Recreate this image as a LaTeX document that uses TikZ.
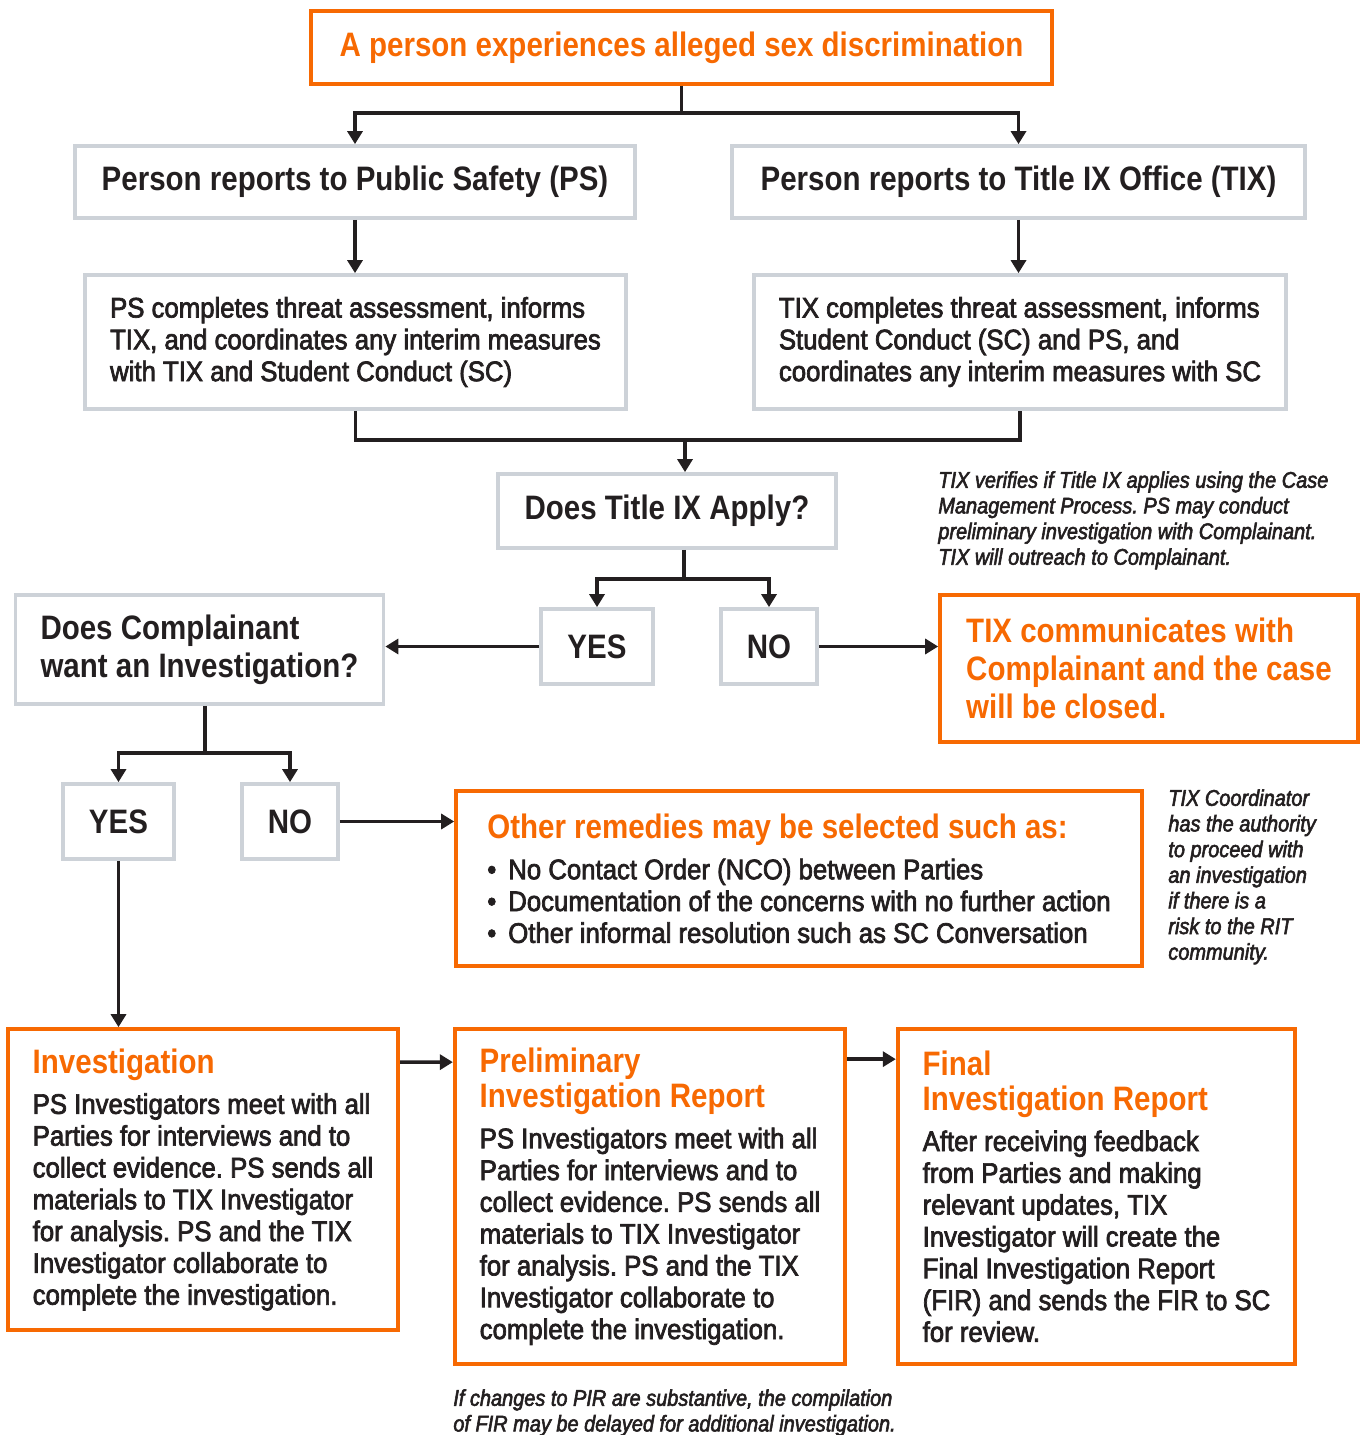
\documentclass[tikz,border=0pt]{standalone}
\usepackage{fontspec}
\usepackage{xcolor}
\usepackage{tikz}
\usetikzlibrary{arrows.meta}
\newfontfamily\hdfont[FakeStretch=0.87]{Liberation Sans}
\newfontfamily\bdfont[FakeStretch=0.91,FakeBold=2.5]{Liberation Sans}
\newfontfamily\ntfont[FakeStretch=0.88,FakeBold=2.5]{Liberation Sans}
\definecolor{ritorange}{HTML}{F76902}
\definecolor{boxgrey}{HTML}{CDD2D8}
\definecolor{inkdark}{HTML}{231F20}
\newcommand{\hdsize}{\hdfont\bfseries\fontsize{19.3}{21.5}\selectfont}
\newcommand{\bdsize}{\bdfont\fontsize{16.1}{18.1}\selectfont}
\newcommand{\ntsize}{\ntfont\itshape\fontsize{12.9}{14.6}\selectfont}
\frenchspacing

\begin{document}
\begin{tikzpicture}[x=0.02cm, y=-0.02cm,
  greybox/.style={rectangle, draw=boxgrey, line width=0.075cm, inner xsep=0.3cm, inner ysep=0pt, font=\hdsize, text=inkdark},
  textbox/.style={greybox, inner xsep=0.5cm, align=left, font=\bdsize},
  orangebox/.style={rectangle, draw=ritorange, line width=0.075cm, inner xsep=0.5cm, inner ysep=0pt, align=left, font=\bdsize, text=inkdark},
  notetext/.style={anchor=north west, inner sep=0pt, align=left, font=\ntsize, text=inkdark},
  link/.style={draw=inkdark, line width=0.07cm},
  arrow/.style={link, -{Triangle[length=0.26cm, width=0.3cm]}}]
\useasboundingbox (0,0) rectangle (1364,1435);

\node (top) [orangebox, align=center, font=\hdsize, text=ritorange, minimum width=14.82cm, minimum height=1.46cm] at (681.5,47.5) {A person experiences alleged sex discrimination};

\node (ps) [greybox, minimum width=11.2cm, minimum height=1.44cm] at (355,182) {Person reports to Public Safety (PS)};
\node (tix) [greybox, minimum width=11.46cm, minimum height=1.44cm] at (1018.5,182) {Person reports to Title IX Office (TIX)};

\node (psc) [textbox, minimum width=10.74cm, minimum height=2.68cm] at (355.5,342) {PS completes threat assessment, informs\\TIX, and coordinates any interim measures\\with TIX and Student Conduct (SC)};
\node (tixc) [textbox, minimum width=10.64cm, minimum height=2.68cm] at (1020,342) {TIX completes threat assessment, informs\\Student Conduct (SC) and PS, and\\coordinates any interim measures with SC};

\node (apply) [greybox, minimum width=6.76cm, minimum height=1.48cm] at (667,511) {Does Title IX Apply?};
\node (note1) [notetext] at (938,471) {TIX verifies if Title IX applies using the Case\\Management Process. PS may conduct\\preliminary investigation with Complainant.\\TIX will outreach to Complainant.};

\node (yes1) [greybox, minimum width=2.24cm, minimum height=1.5cm] at (597,646.5) {YES};
\node (no1) [greybox, minimum width=1.92cm, minimum height=1.5cm] at (769,646.5) {NO};

\node (want) [greybox, inner xsep=0.5cm, align=left, minimum width=7.34cm, minimum height=2.18cm] at (199.5,649.5) {Does Complainant\\want an Investigation?};
\node (closed) [orangebox, font=\hdsize, text=ritorange, minimum width=8.36cm, minimum height=2.94cm] at (1149,668.5) {TIX communicates with\\Complainant and the case\\will be closed.};

\node (yes2) [greybox, minimum width=2.22cm, minimum height=1.5cm] at (118.5,821.5) {YES};
\node (no2) [greybox, minimum width=1.92cm, minimum height=1.5cm] at (290,821.5) {NO};

\node (other) [orangebox, minimum width=13.72cm, minimum height=3.5cm] at (799,878.5) {{\hdsize\color{ritorange}Other remedies may be selected such as:}\\[5.1pt]
  \makebox[0.42cm][l]{\textbullet}No Contact Order (NCO) between Parties\\
  \makebox[0.42cm][l]{\textbullet}Documentation of the concerns with no further action\\
  \makebox[0.42cm][l]{\textbullet}Other informal resolution such as SC Conversation};
\node (note2) [notetext] at (1168,789) {TIX Coordinator\\has the authority\\to proceed with\\an investigation\\if there is a\\risk to the RIT\\community.};

\node (inv) [orangebox, minimum width=7.76cm, minimum height=6.02cm] at (203,1179.5) {{\hdsize\color{ritorange}Investigation}\\[5.1pt]
  PS Investigators meet with all\\Parties for interviews and to\\collect evidence. PS sends all\\materials to TIX Investigator\\for analysis. PS and the TIX\\Investigator collaborate to\\complete the investigation.};
\node (pir) [orangebox, minimum width=7.76cm, minimum height=6.7cm] at (650,1196.5) {{\hdsize\color{ritorange}Preliminary}\\[1.7pt]{\hdsize\color{ritorange}Investigation Report}\\[5.1pt]
  PS Investigators meet with all\\Parties for interviews and to\\collect evidence. PS sends all\\materials to TIX Investigator\\for analysis. PS and the TIX\\Investigator collaborate to\\complete the investigation.};
\node (fir) [orangebox, minimum width=7.78cm, minimum height=6.7cm] at (1096.5,1196.5) {{\hdsize\color{ritorange}Final}\\[1.7pt]{\hdsize\color{ritorange}Investigation Report}\\[5.1pt]
  After receiving feedback\\from Parties and making\\relevant updates, TIX\\Investigator will create the\\Final Investigation Report\\(FIR) and sends the FIR to SC\\for review.};
\node (note3) [notetext] at (453,1389) {If changes to PIR are substantive, the compilation\\of FIR may be delayed for additional investigation.};

\coordinate (fork1) at (681.5,113);
\draw[link] (top.south) -- (fork1);
\draw[arrow] (fork1) -| (ps.north);
\draw[arrow] (fork1) -| (tix.north);
\draw[arrow] (ps.south) -- (ps.south |- psc.north);
\draw[arrow] (tix.south) -- (tix.south |- tixc.north);

\coordinate (join1) at (685,440);
\draw[link] (psc.south) |- (join1) -| (tixc.south);
\draw[arrow] (join1) -- (join1 |- apply.north);

\coordinate (fork2) at (684,579);
\draw[link] (fork2 |- apply.south) -- (fork2);
\draw[arrow] (fork2) -| (yes1.north);
\draw[arrow] (fork2) -| (no1.north);
\draw[arrow] (yes1.west) -- (yes1.west -| want.east);
\draw[arrow] (no1.east) -- (no1.east -| closed.west);

\coordinate (fork3) at (205,753);
\draw[link] (fork3 |- want.south) -- (fork3);
\draw[arrow] (fork3) -| (yes2.north);
\draw[arrow] (fork3) -| (no2.north);
\draw[arrow] (no2.east) -- (no2.east -| other.west);
\draw[arrow] (yes2.south) -- (yes2.south |- inv.north);

\draw[arrow] ([yshift=-0.7cm]inv.north east) -- ([yshift=-0.7cm]pir.north west);
\draw[arrow] ([yshift=-0.64cm]pir.north east) -- ([yshift=-0.64cm]fir.north west);
\end{tikzpicture}
\end{document}
